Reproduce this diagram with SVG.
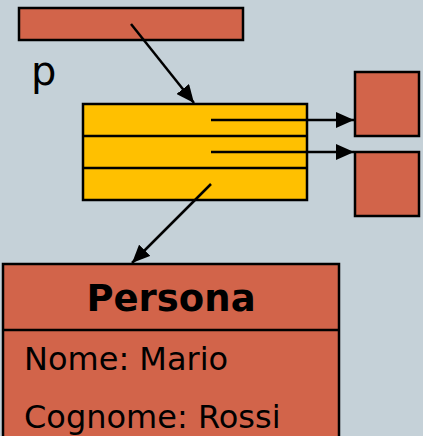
<svg xmlns="http://www.w3.org/2000/svg" width="423" height="436" viewBox="0 0 423 436">
<style>
.red{fill:#d2644a;stroke:#000;stroke-width:2.5}
.yel{fill:#ffc000;stroke:#000;stroke-width:2.5}
.ln{stroke:#000;stroke-width:2.5;fill:none}
text{font-family:"DejaVu Sans",Verdana,sans-serif;fill:#000}
</style>
<defs>
<marker id="ah2" markerWidth="18" markerHeight="16" refX="18" refY="8" orient="auto" markerUnits="userSpaceOnUse" viewBox="0 0 18 16">
<path d="M0,0 L18,8 L0,16 z" fill="#000"/>
</marker>
</defs>
<rect width="423" height="436" fill="#c5d1d8"/>
<g id="pointer">
<rect class="red" x="19" y="8" width="224" height="32"/>
</g>
<g id="label-p">
<text x="31" y="85" font-size="40">p</text>
</g>
<g id="array">
<rect class="yel" x="83" y="104" width="224" height="96"/>
<line class="ln" x1="83" y1="136" x2="307" y2="136"/>
<line class="ln" x1="83" y1="168" x2="307" y2="168"/>
</g>
<g id="obj1">
<rect class="red" x="355" y="72" width="64" height="64"/>
</g>
<g id="obj2">
<rect class="red" x="355" y="152" width="64" height="64"/>
</g>
<g id="persona">
<rect class="red" x="3" y="264" width="336" height="180"/>
<line class="ln" x1="3" y1="330" x2="339" y2="330"/>
<text x="171" y="311" font-size="37" font-weight="bold" text-anchor="middle">Persona</text>
<text x="24" y="370" font-size="32">Nome: Mario</text>
<text x="24" y="428" font-size="32">Cognome: Rossi</text>
</g>
<g id="connectors">
<line class="ln" x1="131" y1="24" x2="194" y2="103" marker-end="url(#ah2)"/>
<line class="ln" x1="211" y1="120" x2="354" y2="120" marker-end="url(#ah2)"/>
<line class="ln" x1="211" y1="152" x2="354" y2="152" marker-end="url(#ah2)"/>
<line class="ln" x1="211" y1="184" x2="132" y2="263" marker-end="url(#ah2)"/>
</g>
</svg>
